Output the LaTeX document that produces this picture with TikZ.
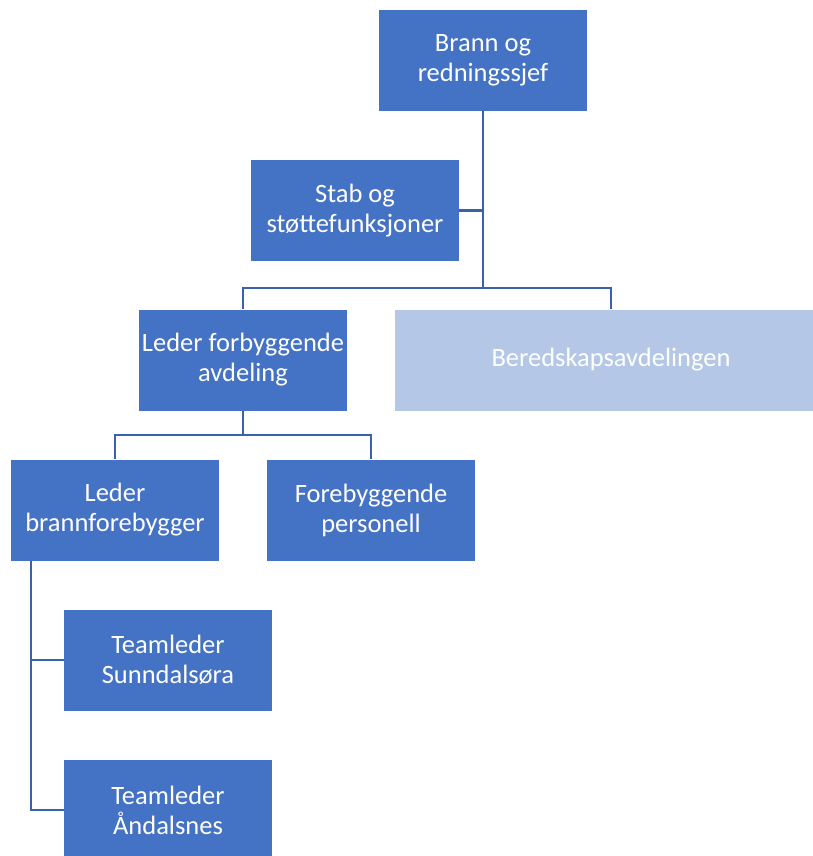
\documentclass[tikz,border=0pt]{standalone}
\usepackage{fontspec}
\setmainfont{Carlito}
\definecolor{boxblue}{HTML}{4472C4}
\definecolor{paleblue}{HTML}{B4C7E7}
\definecolor{lineblue}{HTML}{3A62AA}

\begin{document}
\begin{tikzpicture}[x=1pt, y=-1pt]
   \tikzstyle{every node}=[fill=boxblue, text=white, minimum width=208pt, minimum height=101pt, inner sep=0pt, align=center, font=\fontsize{26.5}{30}\selectfont]
   \tikzstyle{link}=[draw=lineblue, line width=2.8pt]

\useasboundingbox (0,0) rectangle (813,856);

\node (chief) at (483,60.5) {Brann og\\redningssjef};
\node (stab) at (355,210.5) {Stab og\\støttefunksjoner};
\node (forb) at (243,360) {Leder forbyggende\\avdeling};
\node[fill=paleblue, minimum width=432pt] (bered) at (611,360) {Beredskapsavdelingen};
\node (lbf) at (115,510) {Leder\\brannforebygger};
\node (pers) at (371,510) {Forebyggende\\personell};
\node (sunn) at (168,660) {Teamleder\\Sunndalsøra};
\node (aand) at (168,810) {Teamleder\\Åndalsnes};

\coordinate (split1) at (483,288);
\coordinate (split2) at (243,435);
\coordinate (spine) at (31,561);

\draw[link] (chief) -- (split1);
\draw[link] (stab.east) -- (stab.east -| chief.south);
\draw[link] (forb.north) |- (split1) -| (bered.north);
\draw[link] (forb) -- (split2);
\draw[link] (lbf.north) |- (split2) -| (pers.north);
\draw[link] (spine) |- (sunn.west);
\draw[link] (spine) |- (aand.west);

\end{tikzpicture}
\end{document}
